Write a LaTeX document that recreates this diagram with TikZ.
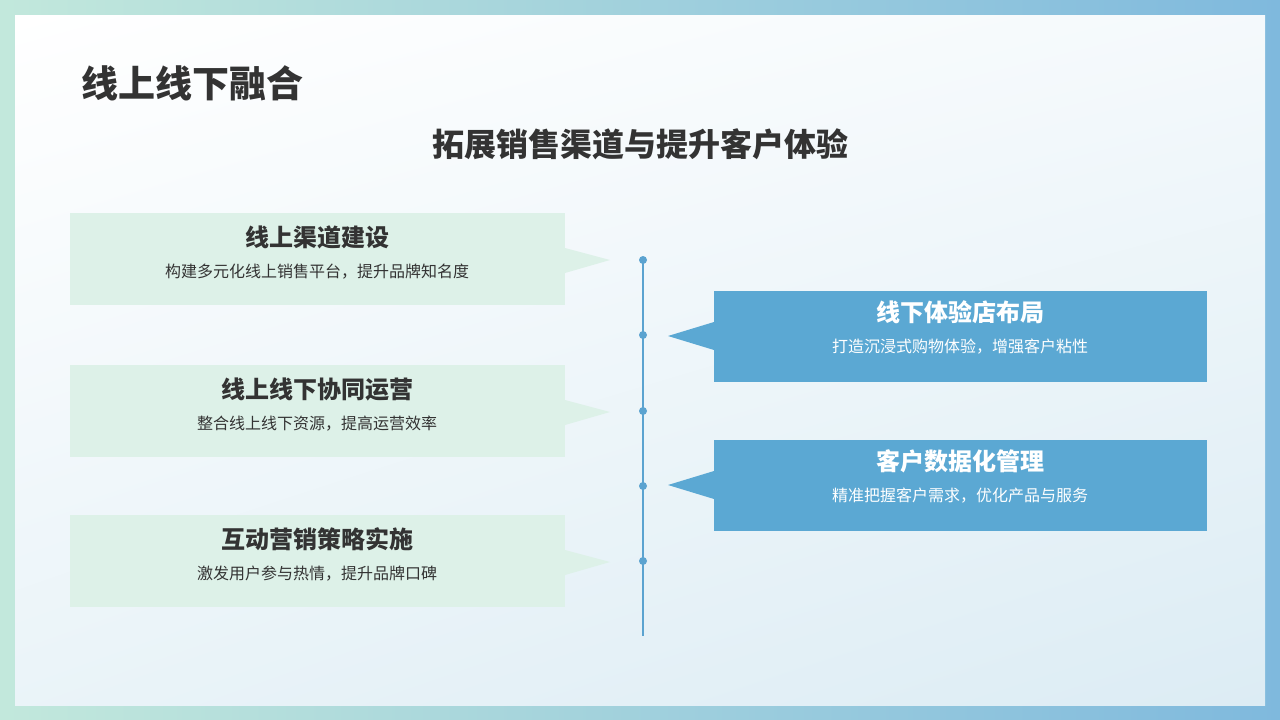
\documentclass[tikz,border=0pt]{standalone}
\usepackage{fontspec}
\setmainfont{Noto Sans CJK SC}
\usetikzlibrary{calc,shadings}
\definecolor{lgreen}{HTML}{DDF1E8}
\definecolor{dblue}{HTML}{5BA8D3}
\definecolor{tline}{HTML}{5BA3D0}
\definecolor{txt}{HTML}{333333}
\definecolor{bl}{HTML}{C2E8DC}
\definecolor{br}{HTML}{7FB9DD}
\definecolor{inbr}{HTML}{DCECF4}
\tikzset{
 lbox/.style={fill=lgreen},
 rbox/.style={fill=dblue},
 ttl/.style={font=\fontsize{24}{28}\selectfont\bfseries, text=txt},
 sub/.style={font=\fontsize{16}{19}\selectfont, text=txt},
 dot/.style={circle, fill=tline, inner sep=0pt, minimum size=8pt},
}
\begin{document}
\begin{tikzpicture}[x=1pt,y=-1pt]
\useasboundingbox (0,0) rectangle (1280,720);
\shade[left color=bl, right color=br] (0,0) rectangle (1280,720);
\shade[upper left=white, upper right=white!70!inbr, lower left=white!40!inbr, lower right=inbr] (15,15) rectangle (1265,705);
\node[anchor=west, font=\fontsize{37}{42}\selectfont\bfseries, text=txt] (t) at (78,83) {线上线下融合};
\node[font=\fontsize{32}{36}\selectfont\bfseries, text=txt] (st) at (640,144) {拓展销售渠道与提升客户体验};
\draw[tline, line width=2pt] (643,258) coordinate (top) -- (643,636) coordinate (bot);
\foreach \y/\n in {260/d1,335/d2,411/d3,486/d4,561/d5} \node[dot] (\n) at (643,\y) {};
\foreach \y/\a/\b/\n in {213/线上渠道建设/构建多元化线上销售平台，提升品牌知名度/l1,
  365/线上线下协同运营/整合线上线下资源，提高运营效率/l2,
  515/互动营销策略实施/激发用户参与热情，提升品牌口碑/l3}{
  \fill[lgreen] (70,\y) rectangle (565,\y+92);
  \fill[lgreen] (565,\y+35) -- (610,\y+47) -- (565,\y+60) -- cycle;
  \node[ttl] (\n t) at (317,\y+24) {\a};
  \node[sub] (\n s) at (317,\y+59) {\b};
}
\foreach \y/\a/\b/\n in {291/线下体验店布局/打造沉浸式购物体验，增强客户粘性/r1,
  440/客户数据化管理/精准把握客户需求，优化产品与服务/r2}{
  \fill[dblue] (714,\y) rectangle (1207,\y+91);
  \fill[dblue] (714,\y+31) -- (668,\y+45) -- (714,\y+59) -- cycle;
  \node[ttl, text=white] (\n t) at (960,\y+21) {\a};
  \node[sub, text=white] (\n s) at (960,\y+56) {\b};
}
\end{tikzpicture}
\end{document}
